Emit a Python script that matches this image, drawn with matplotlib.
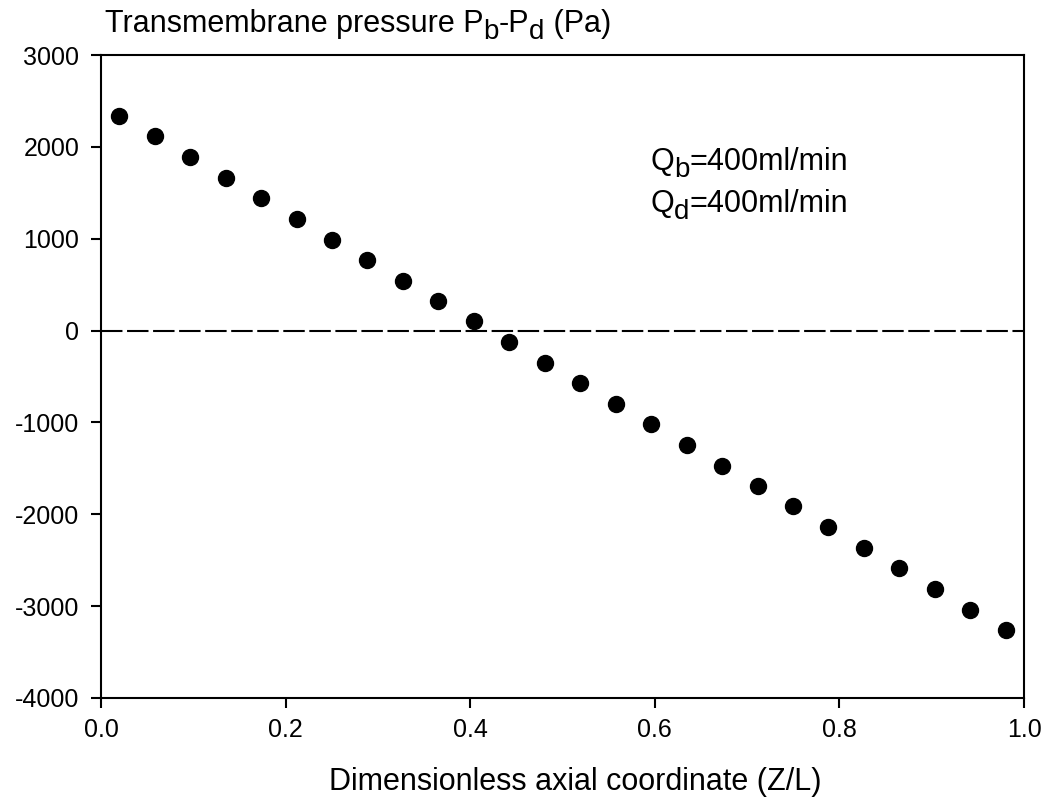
import matplotlib
matplotlib.use('Agg')
import matplotlib.pyplot as plt
from matplotlib.transforms import IdentityTransform
import numpy as np

plt.rcParams['font.family'] = ['Liberation Sans', 'DejaVu Sans']

# axial position along the fibre (Z/L) and transmembrane pressure (Pa)
z_over_l = [0.019, 0.058, 0.096, 0.135, 0.173, 0.212, 0.250, 0.288,
            0.327, 0.365, 0.404, 0.442, 0.481, 0.519, 0.558, 0.596,
            0.635, 0.673, 0.712, 0.750, 0.788, 0.827, 0.865, 0.904,
            0.942, 0.981]
tmp_pa = [2340, 2115, 1885, 1665, 1440, 1215, 990, 770,
          545, 320, 100, -125, -350, -575, -800, -1020,
          -1245, -1470, -1690, -1915, -2140, -2365, -2590, -2815,
          -3040, -3265]

x_ticks = [0.0, 0.2, 0.4, 0.6, 0.8, 1.0]
y_ticks = [3000, 2000, 1000, 0, -1000, -2000, -3000, -4000]

fig = plt.figure(figsize=(10.41, 8.02), dpi=100)
ax = fig.add_axes([0.097, 0.1297, 0.8867, 0.8017])

ax.axhline(0, color='black', lw=1.5, ls=(0, (10.3, 2.2)), zorder=1)
ax.plot(z_over_l, tmp_pa, 'o', color='black', ms=11.5, zorder=3)

ax.set_xlim(0, 1)
ax.set_ylim(-4000, 3000)
ax.set_xticks(x_ticks)
ax.set_xticklabels([f'{t:.1f}' for t in x_ticks])
ax.set_yticks(y_ticks)
ax.set_yticklabels([str(t) for t in y_ticks])

for s in ax.spines.values():
    s.set_linewidth(1.5)
ax.tick_params(direction='out', length=7.5, width=1.5, labelsize=18,
               top=False, right=False)
ax.tick_params(axis='y', pad=8)
ax.tick_params(axis='x', pad=7)

ax.set_xlabel('Dimensionless axial coordinate (Z/L)', fontsize=22)
ax.xaxis.set_label_coords(0.5135, -0.107)

renderer = fig.canvas.get_renderer()


def run_text(x, y, parts, size=22, sub_size=20, drop=7):
    """Write text pieces left to right in pixel coords; (str, True) is a subscript."""
    for s, is_sub in parts:
        t = fig.text(x, y - drop if is_sub else y, s, transform=IdentityTransform(),
                     fontsize=sub_size if is_sub else size, va='baseline', ha='left')
        x = t.get_window_extent(renderer).x1


H = 802
run_text(105, H - 32, [('Transmembrane pressure P', False), ('b', True),
                       ('-P', False), ('d', True), (' (Pa)', False)])
run_text(650, H - 170, [('Q', False), ('b', True), ('=400ml/min', False)])
run_text(650, H - 212, [('Q', False), ('d', True), ('=400ml/min', False)])

fig.savefig('out.png', dpi=100)
